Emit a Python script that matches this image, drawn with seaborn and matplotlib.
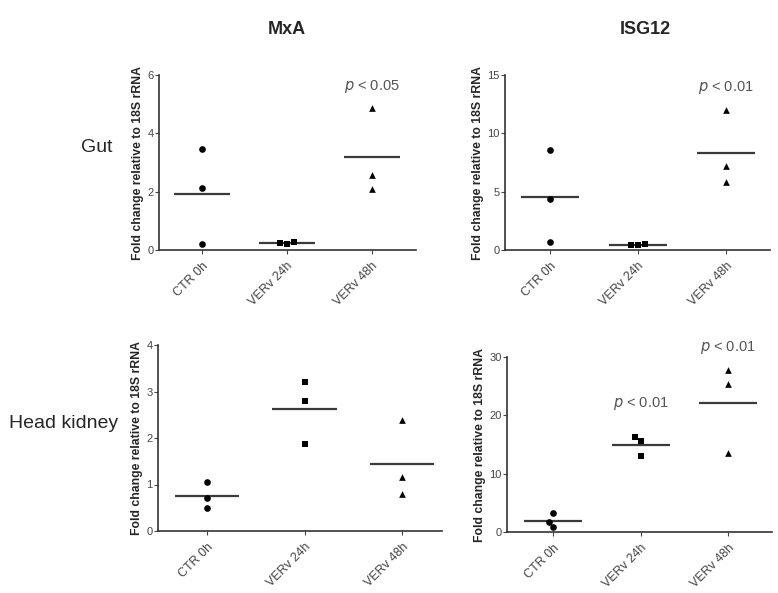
import numpy as np
import pandas as pd
import seaborn as sns
import matplotlib.pyplot as plt

groups = ["CTR 0h", "VERv 24h", "VERv 48h"]
markers = ["o", "s", "^"]

# fold change values (3 fish per group)
mxa_gut = [[3.45, 2.12, 0.22], [0.27, 0.20, 0.23], [4.88, 2.58, 2.10]]
isg_gut = [[8.57, 4.37, 0.71], [0.49, 0.43, 0.43], [12.0, 7.23, 5.80]]
mxa_hk = [[1.06, 0.70, 0.50], [3.20, 2.79, 1.87], [2.39, 1.16, 0.80]]
isg_hk = [[3.2, 1.77, 0.80], [16.26, 15.57, 13.1], [27.7, 25.3, 13.6]]

yticks_list = [[0, 2, 4, 6], [0, 5, 10, 15], [0, 1, 2, 3, 4], [0, 10, 20, 30]]
pvals = [{2: (5.6, "0.05")}, {2: (13.9, "0.01")}, {}, {1: (22.1, "0.01"), 2: (31.7, "0.01")}]

sns.set_style("white")
plt.rcParams["font.family"] = ["Liberation Sans", "DejaVu Sans"]

fig = plt.figure(figsize=(7.78, 5.93), dpi=100)
W, H = 778, 593
# axes boxes in pixels: left, right, top, bottom, xlim
boxes = [(159, 416, 75, 250, (-0.506, 2.52)),
         (505, 770, 75, 250, (-0.51, 2.5)),
         (158, 442, 345, 531, (-0.505, 2.41)),
         (507, 772, 357, 532, (-0.526, 2.5))]
datasets = [mxa_gut, isg_gut, mxa_hk, isg_hk]

for k, (l, r, t, b, xl) in enumerate(boxes):
    ax = fig.add_axes([l / W, 1 - b / H, (r - l) / W, (b - t) / H])
    vals = datasets[k]
    df = pd.DataFrame({"group": np.repeat(groups, 3), "value": np.ravel(vals)})
    for i, g in enumerate(groups):
        sub = df[df.group == g]
        sns.swarmplot(data=sub, x="group", y="value", order=groups, ax=ax,
                      marker=markers[i], color="black", size=4.8, clip_on=False)
        m = sub.value.mean()
        ax.hlines(m, i - 0.33, i + 0.33, color="#3a3a3a", lw=1.6, zorder=1)
    yt = yticks_list[k]
    ax.set_ylim(0, yt[-1])
    ax.set_yticks(yt)
    ax.set_xlim(*xl)
    ax.set_xlabel("")
    ax.set_ylabel("Fold change relative to 18S rRNA", fontsize=8.8,
                  fontweight="bold", labelpad=2)
    ax.set_xticks(range(3))
    ax.set_xticklabels(groups, rotation=45, ha="right", rotation_mode="anchor",
                       fontsize=9, color="#2a2a2a")
    ax.tick_params(axis="y", labelsize=8, colors="#444444", length=3, width=0.8,
                   direction="out", left=True, pad=1)
    ax.tick_params(axis="x", length=3, width=0.8, direction="out", bottom=True,
                   colors="#444444", pad=4)
    for s in ["top", "right"]:
        ax.spines[s].set_visible(False)
    for s in ["left", "bottom"]:
        ax.spines[s].set_color("#333333")
        ax.spines[s].set_linewidth(1.2)
    for xi, (yy, p) in pvals[k].items():
        ax.text(xi, yy, r"$\it{p}$ < " + p, ha="center", va="center",
                fontsize=10.5, color="#555555", clip_on=False)

fig.text(287 / W, 1 - 30 / H, "MxA", ha="center", va="center",
         fontsize=13, fontweight="bold")
fig.text(645 / W, 1 - 30 / H, "ISG12", ha="center", va="center",
         fontsize=13, fontweight="bold")
fig.text(97 / W, 1 - 147 / H, "Gut", ha="center", va="center", fontsize=14)
fig.text(64 / W, 1 - 424 / H, "Head kidney", ha="center", va="center", fontsize=14)

fig.savefig("out.png", dpi=100)
